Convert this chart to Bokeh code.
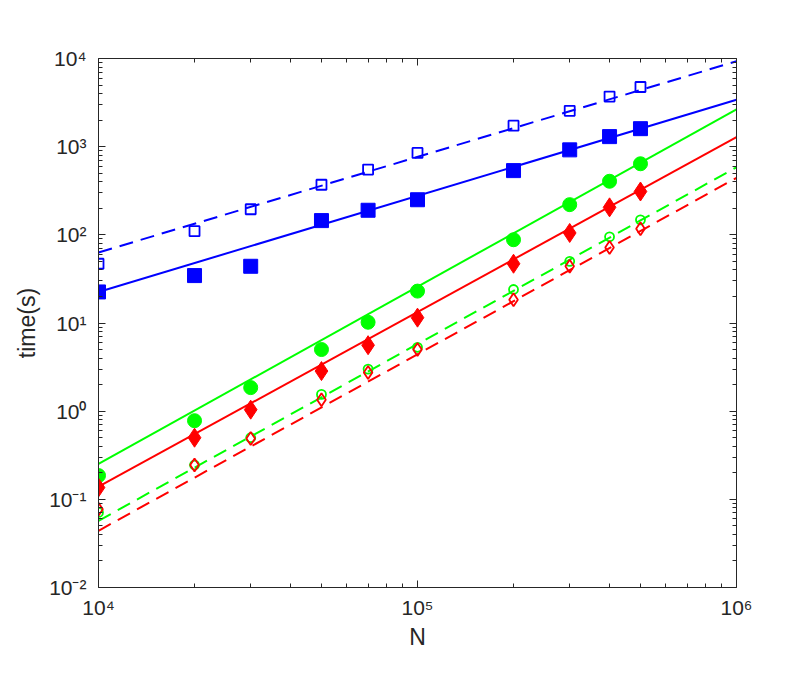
from bokeh.plotting import figure
from bokeh.models import Range1d, LogAxis, FixedTicker
from bokeh.embed import file_html
from bokeh.resources import INLINE

# ---- data ----
N = [1e4, 2e4, 3e4, 5e4, 7e4, 1e5, 2e5, 3e5, 4e5, 5e5]
blue_filled = [22.5, 34.5, 44, 145, 190, 250, 535, 920, 1300, 1600]
blue_open = [47, 110, 195, 370, 550, 850, 1730, 2550, 3700, 4750]
green_filled = [0.186, 0.78, 1.85, 5.0, 10.2, 23, 88, 220, 405, 640]
red_filled = [0.136, 0.50, 1.04, 2.85, 5.6, 11.5, 47, 105, 205, 310]
green_open = [0.071, 0.245, 0.50, 1.55, 3.0, 5.3, 24, 50, 95, 148]
red_open = [0.077, 0.245, 0.49, 1.35, 2.75, 5.0, 18.4, 44, 72, 117]

fit_N = [1e4, 1e6]
blue_fit_solid = [22.5, 3400]
blue_fit_dash = [63, 9300]
green_fit_solid = [0.252, 2640]
red_fit_solid = [0.139, 1280]
green_fit_dash = [0.057, 584]
red_fit_dash = [0.044, 443]

x_ticks = [1e4, 1e5, 1e6]
x_tick_labels = ["10⁴", "10⁵", "10⁶"]
y_ticks = [1e-2, 1e-1, 1e0, 1e1, 1e2, 1e3, 1e4]
y_tick_labels = ["10⁻²", "10⁻¹", "10⁰", "10¹", "10²", "10³", "10⁴"]

BLUE = "#0000FF"
GREEN = "#00FF00"
RED = "#FF0000"
AX = "#262626"
FONT = "Liberation Sans"

def minor(decs):
    out = []
    for d in decs:
        for m in range(2, 10):
            out.append(m * 10.0 ** d)
    return out

x_minor = minor(range(4, 6))
y_minor = minor(range(-2, 4))

p = figure(width=788, height=678, x_axis_type="log", y_axis_type="log",
           x_range=Range1d(1e4, 1e6), y_range=Range1d(1e-2, 1e4),
           output_backend="svg", toolbar_location=None,
           min_border_left=98, min_border_right=52,
           min_border_top=58, min_border_bottom=91)
p.xgrid.visible = False
p.ygrid.visible = False
p.outline_line_color = None
p.background_fill_color = "white"
p.border_fill_color = "white"

def style_axis(ax, ticks, minors, labels, show_labels=True):
    ax.ticker = FixedTicker(ticks=ticks, minor_ticks=minors)
    ax.major_label_overrides = {t: l for t, l in zip(ticks, labels)}
    ax.axis_line_color = AX
    ax.axis_line_width = 1
    ax.major_tick_line_color = AX
    ax.minor_tick_line_color = AX
    ax.major_tick_in = 7
    ax.major_tick_out = 0
    ax.minor_tick_in = 4
    ax.minor_tick_out = 0
    ax.major_label_text_font = FONT
    ax.major_label_text_font_size = "21px"
    ax.major_label_text_color = AX
    if not show_labels:
        ax.major_label_text_alpha = 0.0
        ax.major_label_text_font_size = "1px"

style_axis(p.xaxis[0], x_ticks, x_minor, x_tick_labels)
style_axis(p.yaxis[0], y_ticks, y_minor, y_tick_labels)
p.xaxis[0].major_label_standoff = 8
p.yaxis[0].major_label_standoff = 12

p.xaxis[0].axis_label = "N"
p.yaxis[0].axis_label = "time(s)"
for ax in (p.xaxis[0], p.yaxis[0]):
    ax.axis_label_text_font = FONT
    ax.axis_label_text_font_size = "23px"
    ax.axis_label_text_font_style = "normal"
    ax.axis_label_text_color = AX
p.xaxis[0].axis_label_standoff = 2
p.yaxis[0].axis_label_standoff = 6

top = LogAxis()
right = LogAxis()
style_axis(top, x_ticks, x_minor, x_tick_labels, show_labels=False)
style_axis(right, y_ticks, y_minor, y_tick_labels, show_labels=False)
top.major_label_standoff = 0
right.major_label_standoff = 0
p.add_layout(top, "above")
p.add_layout(right, "right")

# fit lines
DASH = "14 8"
p.line(fit_N, blue_fit_dash, line_color=BLUE, line_width=2, line_dash=DASH)
p.line(fit_N, blue_fit_solid, line_color=BLUE, line_width=2)
p.line(fit_N, green_fit_solid, line_color=GREEN, line_width=2)
p.line(fit_N, red_fit_solid, line_color=RED, line_width=2)
p.line(fit_N, green_fit_dash, line_color=GREEN, line_width=2, line_dash=DASH)
p.line(fit_N, red_fit_dash, line_color=RED, line_width=2, line_dash=DASH)

# markers
p.scatter(N, blue_open, marker="square", size=10, line_color=BLUE, line_width=1.8, fill_alpha=0)
p.scatter(N, blue_filled, marker="square", size=14, line_color=BLUE, fill_color=BLUE)
p.scatter(N, green_filled, marker="circle", size=14, line_color=GREEN, fill_color=GREEN)
p.scatter(N, red_filled, marker="diamond", size=19, line_color=RED, fill_color=RED)
p.scatter(N, green_open, marker="circle", size=9, line_color=GREEN, line_width=1.8, fill_alpha=0)
p.scatter(N, red_open, marker="diamond", size=13, line_color=RED, line_width=1.8, fill_alpha=0)

open("out.html", "w").write(file_html(p, INLINE))
